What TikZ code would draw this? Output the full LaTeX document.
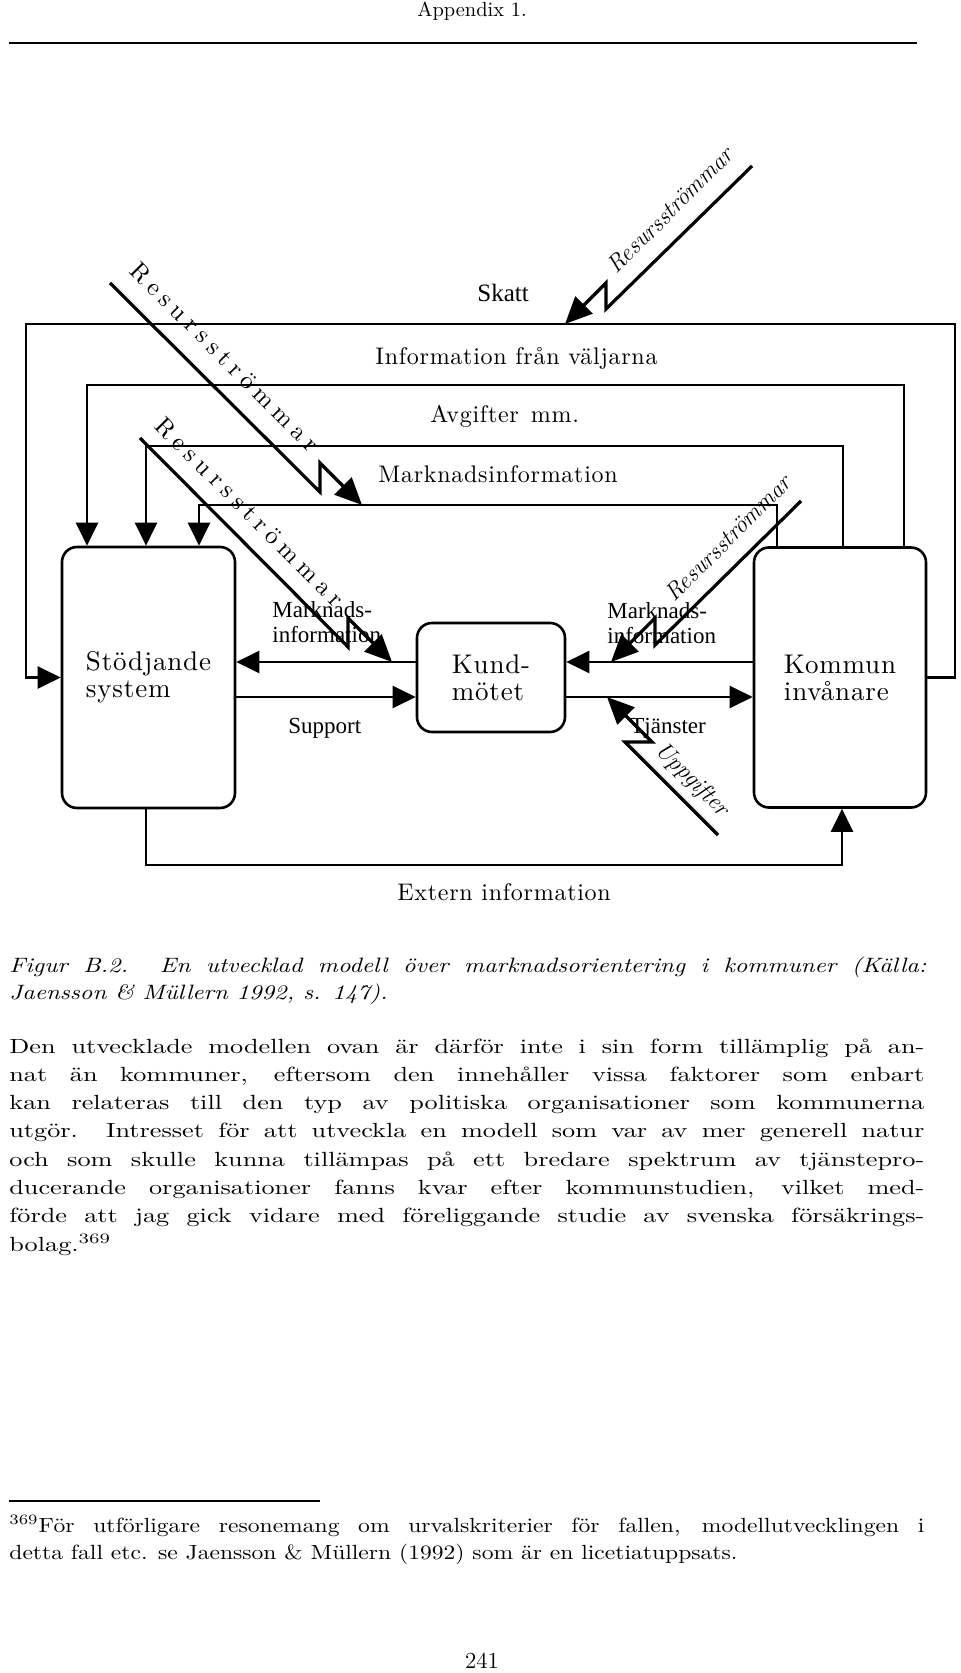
\documentclass[tikz,border=0pt]{standalone}
\usepackage{fontspec}
\usepackage{graphicx}
\usetikzlibrary{positioning,arrows.meta}
\newfontfamily\diagfont{lmroman10-regular.otf}[LetterSpace=3,ItalicFont=lmroman10-italic.otf]
\newfontfamily\spacedfont{lmroman10-regular.otf}[LetterSpace=24]
\newfontfamily\timesfont{Liberation Serif}
\newcommand{\stretchpar}[3]{\scalebox{#1}[1]{\parbox[t]{#2}{#3}}}

\begin{document}
\begin{tikzpicture}[x=0.5pt,y=-0.5pt,
  box/.style={draw, line width=1.3pt, rounded corners=7.5pt, align=left, inner sep=0pt,
    font=\diagfont\fontsize{13.5}{13.5}\selectfont},
  flow/.style={line width=1.1pt, -{Triangle[length=11.5pt,width=11pt]}},
  bolt/.style={line width=1.6pt, line join=miter, -{Triangle[length=13.5pt,width=12pt]}},
  linelabel/.style={inner sep=0pt, font=\diagfont\fontsize{12}{14}\selectfont},
  smalllabel/.style={inner sep=0pt, align=left, font=\timesfont\fontsize{11.5}{12.5}\selectfont},
  boltlabel/.style={inner sep=0pt, font=\itshape\fontsize{12}{14}\selectfont},
  spacedlabel/.style={inner sep=0pt, font=\spacedfont\fontsize{12.5}{14}\selectfont},
  pagetext/.style={anchor=base west, inner sep=0pt}]
\useasboundingbox (0,0) rectangle (960,1673);

\node[anchor=base, inner sep=0pt, font=\fontsize{10.2}{12}\selectfont] (appendix) at (472,17) {Appendix 1.};
\draw[line width=0.7pt] (9,43) -- (917,43);

\node[box, minimum width=86.5pt, minimum height=130.5pt] (stod) at (148.5,677.5) {Stödjande\\system};
\node[box, minimum width=86pt, minimum height=130pt] (kom) at (840,677.5) {Kommun\\invånare};
\node[box, minimum width=74pt, minimum height=54.5pt] (kund) at (491,677.5) {Kund-\\mötet};

\coordinate (ra) at (955,324);
\coordinate (la) at (26,324);
\coordinate (rb) at (904,385);
\coordinate (lb) at (87,385);
\coordinate (rc) at (843,446);
\coordinate (lc) at (146,446);
\coordinate (rd) at (777,505);
\coordinate (ld) at (199,505);
\coordinate (le) at (146,865);
\coordinate (re) at (842,865);

\draw[flow] (kom.east) -| (ra) -- (la) |- (stod.west);
\foreach \k in {b,c,d}
  \draw[flow] (kom.north -| r\k) -- (r\k) -- (l\k) -- (stod.north -| l\k);
\draw[flow] (stod.south -| le) -- (le) -- (re) -- (kom.south -| re);

\draw[flow] ([yshift=7.75pt]kund.west) -- ([yshift=7.75pt]kund.west -| stod.east);
\draw[flow] ([yshift=-9.75pt]stod.east) -- ([yshift=-9.75pt]stod.east -| kund.west);
\draw[flow] ([yshift=7.75pt]kom.west) -- ([yshift=7.75pt]kom.west -| kund.east);
\draw[flow] ([yshift=-9.75pt]kund.east) -- ([yshift=-9.75pt]kund.east -| kom.west);

\node[smalllabel, anchor=base west, font=\timesfont\fontsize{12.5}{14}\selectfont] (skatt) at (477,302) {Skatt};
\node[linelabel, anchor=base west] (infov) at (375,365) {Information från väljarna};
\node[linelabel, anchor=base west] (avg) at (430,423) {Avgifter\enspace mm.};
\node[linelabel, anchor=base west] (minfo) at (378,483) {Marknadsinformation};
\node[linelabel, anchor=base west] (extern) at (397,900) {Extern information};

\node[smalllabel, anchor=north west] (minfoleft) at (272,601) {Marknads-\\information};
\node[smalllabel, anchor=base west] (support) at (288,733) {Support};
\node[smalllabel, anchor=north west] (minforight) at (607,602) {Marknads-\\information};
\node[smalllabel, anchor=base west] (tjanst) at (630,733) {Tjänster};

\coordinate (skattfrom) at (752,166);
\coordinate (skattto) at (565,324);
\coordinate (avgfrom) at (110,283);
\coordinate (avgto) at (362,505);
\coordinate (stodfrom) at (140,438);
\coordinate (stodto) at (392,662);
\coordinate (komfrom) at (801,501);
\coordinate (komto) at (611,662);
\coordinate (uppfrom) at (718,835);
\coordinate (uppto) at (607,697);

\draw[bolt] (skattfrom) -- ++(-146,143) -- ++(0,-26) -- (skattto);
\draw[bolt] (avgfrom) -- ++(210,209) -- ++(0,-29) -- (avgto);
\draw[bolt] (stodfrom) -- ++(208,209) -- ++(0,-29) -- (stodto);
\draw[bolt] (komfrom) -- ++(-146,144) -- ++(0,-27) -- (komto);
\draw[bolt] (uppfrom) -- ++(-93,-93) -- ++(27,0) -- (uppto);

\node[boltlabel, rotate=45] (res1) at (670,210) {Resursströmmar};
\node[spacedlabel, rotate=-45] (res2) at (225,357) {Resursströmmar};
\node[spacedlabel, rotate=-45] (res3) at (250,512) {Resursströmmar};
\node[boltlabel, rotate=45] (res4) at (728,538) {Resursströmmar};
\node[boltlabel, rotate=-45] (upp) at (692,780) {Uppgifter};

\node[pagetext, font=\itshape\fontsize{10.4}{13.5}\selectfont] (caption) at (9,972)
  {\stretchpar{1.18}{388.6pt}{Figur B.2. En utvecklad modell över marknadsorientering i kommuner (Källa:\linebreak
  Jaensson \& Müllern 1992, s. 147).}};

\node[pagetext, font=\fontsize{10.25}{14.15}\selectfont] (body) at (9,1053)
  {\stretchpar{1.28}{357.4pt}{Den utvecklade modellen ovan är därför inte i sin form tillämplig på an-\linebreak
  nat än kommuner, eftersom den innehåller vissa faktorer som enbart\linebreak
  kan relateras till den typ av politiska organisationer som kommunerna\linebreak
  utgör. Intresset för att utveckla en modell som var av mer generell natur\linebreak
  och som skulle kunna tillämpas på ett bredare spektrum av tjänstepro-\linebreak
  ducerande organisationer fanns kvar efter kommunstudien, vilket med-\linebreak
  förde att jag gick vidare med föreliggande studie av svenska försäkrings-\linebreak
  bolag.\textsuperscript{369}}};

\draw[line width=0.6pt] (9,1501) -- (320,1501);
\node[pagetext, font=\fontsize{10.25}{13.5}\selectfont] (footnote) at (9,1532)
  {\stretchpar{1.15}{397.8pt}{\textsuperscript{369}För utförligare resonemang om urvalskriterier för fallen, modellutvecklingen i\linebreak
  detta fall etc. se Jaensson \& Müllern (1992) som är en licetiatuppsats.}};

\node[anchor=base, inner sep=0pt, font=\fontsize{11.5}{13}\selectfont] (pagenum) at (482,1668) {241};
\end{tikzpicture}
\end{document}
